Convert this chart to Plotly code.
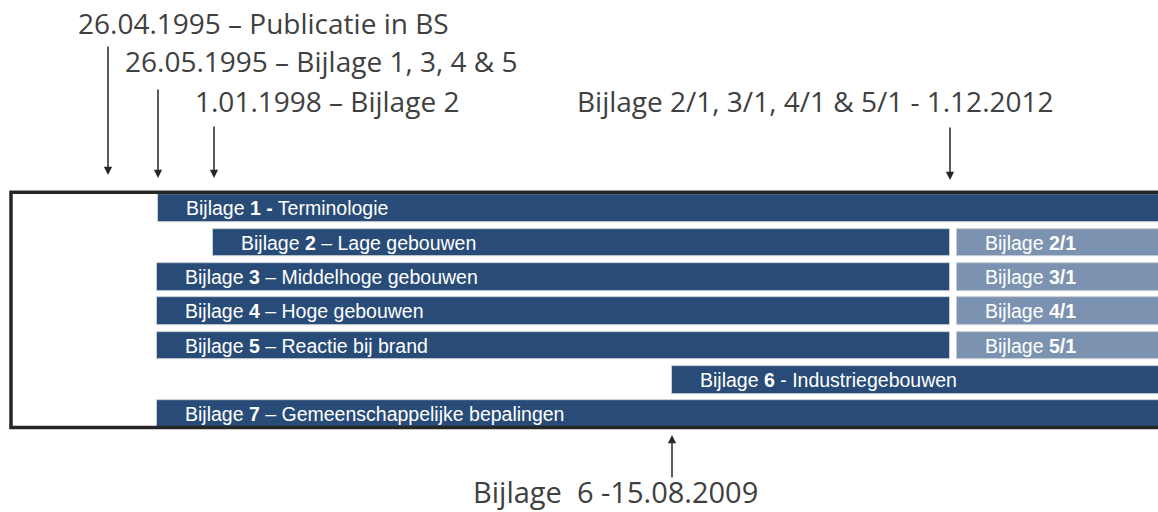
import plotly.graph_objects as go

W, H = 1158, 512

# ---- data (schematic timeline units) ----
rows = [1, 2, 3, 4, 5, 6, 7]
bar_numbers = ["1", "2", "3", "4", "5", "6", "7"]
bar_titles = ["Terminologie", "Lage gebouwen", "Middelhoge gebouwen", "Hoge gebouwen",
              "Reactie bij brand", "Industriegebouwen", "Gemeenschappelijke bepalingen"]
bar_seps = [" - ", " \u2013 ", " \u2013 ", " \u2013 ", " \u2013 ", " - ", " \u2013 "]
bar_start = [158, 213, 157, 157, 157, 672, 157]
bar_end = [1175, 950, 950, 950, 950, 1175, 1175]

rev_rows = [2, 3, 4, 5]
rev_labels = ["2/1", "3/1", "4/1", "5/1"]
rev_start = [956.5, 956.5, 956.5, 956.5]
rev_end = [1175, 1175, 1175, 1175]

milestone_x = [108, 158, 214, 950]
milestone_labels = ["26.04.1995 \u2013 Publicatie in BS",
                    "26.05.1995 \u2013 Bijlage 1, 3, 4 & 5",
                    "1.01.1998 \u2013 Bijlage 2",
                    "Bijlage 2/1, 3/1, 4/1 & 5/1 - 1.12.2012"]
bottom_milestone_x = 672
bottom_milestone_label = "Bijlage \u00a06 -15.08.2009"

DARK = "#284C77"
LIGHT = "#7B93B0"
EDGE = "#C9CED6"
TXT = "#404040"


def py(p):
    return 1 - p / H


fig = go.Figure()
fig.add_trace(go.Bar(
    y=rows, base=bar_start, x=[e - s for s, e in zip(bar_start, bar_end)],
    orientation="h", width=0.8, marker=dict(color=DARK, line=dict(color=EDGE, width=1)),
    hoverinfo="skip", showlegend=False))
fig.add_trace(go.Bar(
    y=rev_rows, base=rev_start, x=[e - s for s, e in zip(rev_start, rev_end)],
    orientation="h", width=0.8, marker=dict(color=LIGHT, line=dict(color=EDGE, width=1)),
    hoverinfo="skip", showlegend=False))

bar_font = dict(family="Liberation Sans, Arial", size=19.5, color="white")
for r, n, sep, t, s in zip(rows, bar_numbers, bar_seps, bar_titles, bar_start):
    if sep == " - ":
        txt = f"Bijlage <b>{n} -</b> {t}" if n == "1" else f"Bijlage <b>{n}</b> - {t}"
    else:
        txt = f"Bijlage <b>{n}</b>{sep}{t}"
    fig.add_annotation(x=s, y=r, xref="x", yref="y", text=txt, showarrow=False,
                       xanchor="left", yanchor="middle", xshift=26, font=bar_font)
for r, lab, s in zip(rev_rows, rev_labels, rev_start):
    fig.add_annotation(x=s, y=r, xref="x", yref="y", text=f"Bijlage <b>{lab}</b>",
                       showarrow=False, xanchor="left", yanchor="middle", xshift=26, font=bar_font)

# frame
fig.add_shape(type="rect", xref="x", yref="paper", x0=11, x1=1180, y0=py(427.5), y1=py(192.3),
              line=dict(color="#262626", width=3.5), fillcolor="rgba(0,0,0,0)", layer="above")

# milestone labels (top)
lab_font = dict(family="Open Sans", size=28, color=TXT)
lab_left = [76, 123, 193, 575]
lab_center_y = [23, 61, 101, 101]
for xl, yc, lab in zip(lab_left, lab_center_y, milestone_labels):
    fig.add_annotation(x=xl, y=py(yc), xref="x", yref="paper", text=lab, showarrow=False,
                       xanchor="left", yanchor="middle", font=lab_font)

# arrows (top)
arrow_tip = [175, 178, 178, 180]
arrow_tail = [45, 88, 125, 126]
for xm, tip, tail in zip(milestone_x, arrow_tip, arrow_tail):
    fig.add_annotation(x=xm, y=py(tip), xref="x", yref="paper", ax=0, ay=tail - tip,
                       text="", showarrow=True, arrowhead=2, arrowsize=1.1, arrowwidth=1.5,
                       arrowcolor="#262626")

# bottom milestone
fig.add_annotation(x=bottom_milestone_x, y=py(435), xref="x", yref="paper", ax=0, ay=44,
                   text="", showarrow=True, arrowhead=2, arrowsize=1.1, arrowwidth=1.5,
                   arrowcolor="#262626")
fig.add_annotation(x=471, y=py(491.5), xref="x", yref="paper", text=bottom_milestone_label,
                   showarrow=False, xanchor="left", yanchor="middle",
                   font=dict(family="Open Sans", size=29, color=TXT))

fig.update_layout(
    width=W, height=H, margin=dict(l=0, r=0, t=0, b=0),
    paper_bgcolor="white", plot_bgcolor="white", barmode="overlay", bargap=0,
    xaxis=dict(range=[0, W], domain=[0, 1], visible=False, fixedrange=True),
    yaxis=dict(range=[7.5, 0.5], domain=[1 - 431.45 / H, 1 - 191.15 / H], visible=False,
               fixedrange=True),
)

fig.write_html("out.html", config={"displayModeBar": False},
               post_script="document.body.style.margin='0px';document.body.style.overflow='hidden';")
